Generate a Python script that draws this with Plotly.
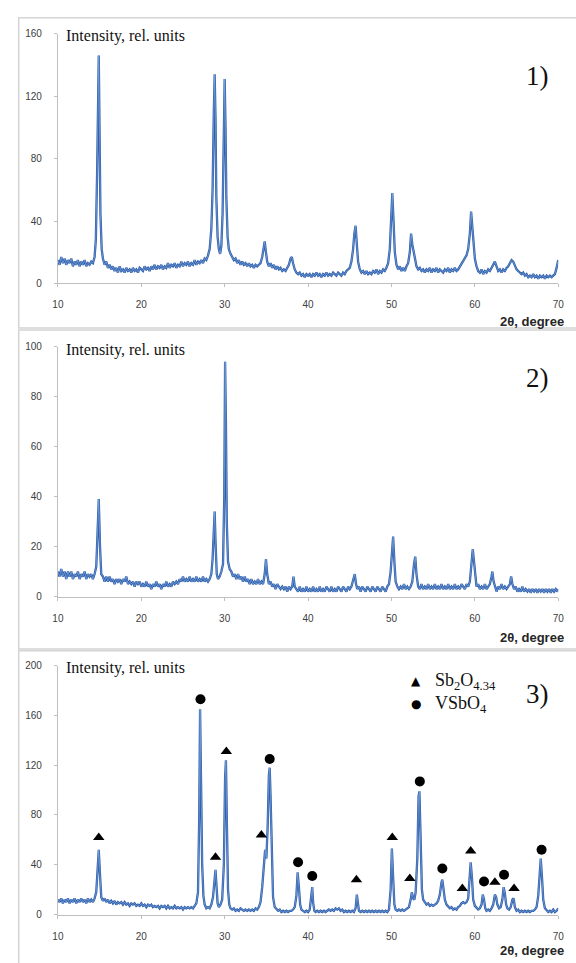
import plotly.graph_objects as go

W, H = 576, 963

# ---- data: (2theta, intensity) ----
xrd_1 = [(10.0,15),(10.2,12),(10.4,17),(10.6,13),(10.8,16),(11.0,12),(11.2,15),(11.4,13),(11.6,16),(11.8,11),
 (12.0,14),(12.2,12),(12.4,15),(12.6,11),(12.8,14),(13.0,12),(13.2,15),(13.4,11),(13.6,13),(13.8,12),(14.0,14),(14.2,13),
 (14.4,17),(14.55,28),(14.7,70),(14.82,120),(14.9,146),(15.0,95),(15.1,45),(15.25,22),(15.4,16),(15.6,12),
 (15.8,14),(16.0,10),(16.2,12),(16.4,9),(16.6,11),(16.8,8),(17.0,10),(17.2,7),(17.4,11),(17.6,8),(17.8,9),(18.0,7),
 (18.2,10),(18.4,8),(18.6,9),(18.8,7),(19.0,10),(19.2,8),(19.4,9),(19.6,7),(19.8,10),(20.0,9),(20.2,8),(20.4,11),
 (20.6,9),(20.8,10),(21.0,8),(21.2,11),(21.4,9),(21.6,12),(21.8,9),(22.0,11),(22.2,10),(22.4,12),(22.6,9),(22.8,11),
 (23.0,10),(23.2,13),(23.4,10),(23.6,12),(23.8,11),(24.0,13),(24.2,10),(24.4,12),(24.6,11),(24.8,14),(25.0,11),
 (25.2,13),(25.4,12),(25.6,14),(25.8,11),(26.0,13),(26.2,12),(26.4,15),(26.6,12),(26.8,14),(27.0,13),(27.2,15),
 (27.4,13),(27.6,16),(27.8,15),(28.0,18),(28.2,22),(28.4,35),(28.55,60),(28.7,110),(28.8,134),(28.9,105),(29.0,55),
 (29.15,30),(29.3,22),(29.45,19),(29.6,24),(29.75,45),(29.9,100),(30.0,131),(30.1,100),(30.2,55),(30.35,30),(30.5,22),
 (30.7,19),(30.9,17),(31.1,15),(31.3,16),(31.5,13),(31.7,15),(31.9,12),(32.1,14),(32.3,12),(32.5,13),(32.7,11),
 (32.9,13),(33.1,11),(33.3,12),(33.5,10),(33.7,12),(33.9,11),(34.1,12),(34.3,13),(34.5,17),(34.65,22),(34.8,27),
 (34.95,20),(35.1,14),(35.3,11),(35.5,13),(35.7,10),(35.9,12),(36.1,9),(36.3,11),(36.5,9),(36.7,10),(36.9,8),
 (37.1,9),(37.3,8),(37.5,10),(37.7,12),(37.9,16),(38.05,17),(38.2,13),(38.4,9),(38.6,7),(38.8,6),(39.0,7),(39.2,5),
 (39.4,6),(39.6,4),(39.8,6),(40.0,5),(40.2,6),(40.4,4),(40.6,6),(40.8,5),(41.0,7),(41.2,5),(41.4,6),(41.6,4),
 (41.8,6),(42.0,5),(42.2,7),(42.4,5),(42.6,6),(42.8,5),(43.0,7),(43.2,6),(43.4,5),(43.6,7),(43.8,6),(44.0,5),
 (44.2,7),(44.4,6),(44.6,8),(44.8,9),(45.0,10),(45.2,14),(45.4,22),(45.55,32),(45.7,37),(45.85,25),(46.0,14),
 (46.2,9),(46.4,7),(46.6,8),(46.8,6),(47.0,8),(47.2,6),(47.4,7),(47.6,6),(47.8,8),(48.0,7),(48.2,9),(48.4,6),
 (48.6,8),(48.8,7),(49.0,9),(49.2,8),(49.4,10),(49.6,13),(49.8,22),(49.95,45),(50.1,58),(50.25,40),(50.4,20),
 (50.6,12),(50.8,9),(51.0,11),(51.2,8),(51.4,10),(51.6,8),(51.8,11),(52.0,13),(52.2,20),(52.35,32),(52.5,25),
 (52.65,21),(52.8,15),(53.0,11),(53.2,9),(53.4,10),(53.6,8),(53.8,9),(54.0,7),(54.2,9),(54.4,8),(54.6,10),
 (54.8,7),(55.0,9),(55.2,8),(55.4,10),(55.6,7),(55.8,9),(56.0,8),(56.2,7),(56.4,9),(56.6,8),(56.8,10),(57.0,7),
 (57.2,9),(57.4,8),(57.6,10),(57.8,8),(58.0,9),(58.2,11),(58.4,12),(58.6,14),(58.8,16),(59.0,18),(59.2,22),
 (59.4,32),(59.55,46),(59.7,35),(59.85,22),(60.0,16),(60.2,11),(60.4,8),(60.6,7),(60.8,9),(61.0,6),(61.2,8),
 (61.4,7),(61.6,9),(61.8,8),(62.0,10),(62.2,13),(62.4,14),(62.6,11),(62.8,8),(63.0,9),(63.2,7),(63.4,9),(63.6,8),
 (63.8,10),(64.0,11),(64.2,13),(64.4,15),(64.6,14),(64.8,11),(65.0,9),(65.2,8),(65.4,7),(65.6,6),(65.8,7),(66.0,5),
 (66.2,6),(66.4,4),(66.6,5),(66.8,4),(67.0,6),(67.2,4),(67.4,5),(67.6,3),(67.8,5),(68.0,4),(68.2,5),(68.4,3),
 (68.6,5),(68.8,4),(69.0,5),(69.2,4),(69.4,5),(69.6,6),(69.8,10),(70.0,15)]

xrd_2 = [(10.0,10),(10.2,8),(10.4,11),(10.6,8),(10.8,10),(11.0,7),(11.2,10),(11.4,8),(11.6,10),(11.8,7),(12.0,9),
 (12.2,8),(12.4,10),(12.6,7),(12.8,9),(13.0,8),(13.2,10),(13.4,7),(13.6,9),(13.8,8),(14.0,9),(14.2,7),(14.4,9),
 (14.6,12),(14.75,25),(14.9,39),(15.05,20),(15.2,9),(15.4,8),(15.6,6),(15.8,8),(16.0,6),(16.2,8),(16.4,6),(16.6,7),
 (16.8,5),(17.0,7),(17.2,6),(17.4,7),(17.6,5),(17.8,7),(18.0,6),(18.2,8),(18.4,5),(18.6,6),(18.8,5),(19.0,6),
 (19.2,4),(19.4,6),(19.6,5),(19.8,6),(20.0,4),(20.2,5),(20.4,4),(20.6,6),(20.8,4),(21.0,5),(21.2,3),(21.4,5),
 (21.6,4),(21.8,6),(22.0,4),(22.2,5),(22.4,3),(22.6,5),(22.8,4),(23.0,6),(23.2,4),(23.4,5),(23.6,4),(23.8,6),
 (24.0,5),(24.2,6),(24.4,5),(24.6,7),(24.8,6),(25.0,8),(25.2,6),(25.4,7),(25.6,6),(25.8,8),(26.0,6),(26.2,7),
 (26.4,6),(26.6,8),(26.8,6),(27.0,7),(27.2,6),(27.4,8),(27.6,6),(27.8,7),(28.0,6),(28.2,7),(28.4,9),(28.55,15),
 (28.7,30),(28.8,34),(28.9,22),(29.05,9),(29.2,7),(29.4,8),(29.6,10),(29.8,13),(29.95,40),(30.05,94),(30.15,70),
 (30.25,30),(30.4,14),(30.6,11),(30.8,10),(31.0,8),(31.2,9),(31.4,7),(31.6,9),(31.8,7),(32.0,8),(32.2,6),(32.4,8),
 (32.6,6),(32.8,7),(33.0,5),(33.2,7),(33.4,5),(33.6,6),(33.8,5),(34.0,7),(34.2,5),(34.4,6),(34.6,5),(34.8,9),
 (34.95,15),(35.1,9),(35.3,5),(35.5,6),(35.7,4),(35.9,5),(36.1,3),(36.3,5),(36.5,4),(36.7,3),(36.9,4),(37.1,3),
 (37.3,4),(37.5,2),(37.7,4),(37.9,3),(38.1,4),(38.25,8),(38.4,4),(38.6,3),(38.8,2),(39.0,4),(39.2,2),(39.4,3),
 (39.6,2),(39.8,4),(40.0,2),(40.2,3),(40.4,2),(40.6,4),(40.8,2),(41.0,3),(41.2,2),(41.4,4),(41.6,2),(41.8,3),
 (42.0,2),(42.2,4),(42.4,3),(42.6,2),(42.8,4),(43.0,2),(43.2,3),(43.4,2),(43.6,4),(43.8,3),(44.0,2),(44.2,4),
 (44.4,3),(44.6,2),(44.8,4),(45.0,3),(45.2,4),(45.45,7),(45.6,9),(45.75,5),(45.9,3),(46.1,4),(46.3,2),(46.5,4),
 (46.7,3),(46.9,2),(47.1,4),(47.3,3),(47.5,2),(47.7,4),(47.9,3),(48.1,2),(48.3,4),(48.5,3),(48.7,2),(48.9,4),
 (49.1,3),(49.3,2),(49.5,4),(49.7,5),(49.9,10),(50.05,19),(50.2,24),(50.35,14),(50.5,6),(50.7,4),(50.9,3),
 (51.1,4),(51.3,3),(51.5,5),(51.7,3),(51.9,4),(52.1,3),(52.3,4),(52.5,6),(52.7,13),(52.85,16),(53.0,9),(53.2,4),
 (53.4,3),(53.6,5),(53.8,3),(54.0,4),(54.2,3),(54.4,5),(54.6,3),(54.8,4),(55.0,3),(55.2,5),(55.4,3),(55.6,4),
 (55.8,3),(56.0,5),(56.2,3),(56.4,4),(56.6,3),(56.8,5),(57.0,3),(57.2,4),(57.4,3),(57.6,5),(57.8,3),(58.0,4),
 (58.2,3),(58.4,5),(58.6,4),(58.8,3),(59.0,5),(59.2,4),(59.4,6),(59.6,12),(59.75,19),(59.9,14),(60.05,7),(60.2,4),
 (60.4,5),(60.6,3),(60.8,4),(61.0,3),(61.2,5),(61.4,3),(61.6,4),(61.8,5),(62.0,8),(62.1,10),(62.25,6),(62.4,4),
 (62.6,2),(62.8,4),(63.0,3),(63.2,5),(63.4,3),(63.6,4),(63.8,3),(64.0,4),(64.2,5),(64.35,8),(64.5,5),(64.7,3),
 (64.9,4),(65.1,2),(65.3,3),(65.5,2),(65.7,4),(65.9,2),(66.1,3),(66.3,2),(66.5,3),(66.7,1.5),(66.9,3),(67.1,2),
 (67.3,3),(67.5,1.5),(67.7,3),(67.9,2),(68.1,3),(68.3,1.5),(68.5,3),(68.7,2),(68.9,3),(69.1,1.5),(69.3,3),(69.5,2),
 (69.7,3),(69.9,2),(70.0,3)]

xrd_3 = [(10.0,12),(10.2,10),(10.4,13),(10.6,9),(10.8,12),(11.0,10),(11.2,13),(11.4,9),(11.6,12),(11.8,10),
 (12.0,13),(12.2,9),(12.4,12),(12.6,10),(12.8,13),(13.0,10),(13.2,12),(13.4,9),(13.6,13),(13.8,10),(14.0,12),
 (14.2,10),(14.4,13),(14.6,18),(14.75,35),(14.9,52),(15.05,32),(15.2,14),(15.4,11),(15.6,13),(15.8,10),(16.0,12),
 (16.2,9),(16.4,11),(16.6,9),(16.8,11),(17.0,8),(17.2,10),(17.4,9),(17.6,10),(17.8,8),(18.0,10),(18.2,8),(18.4,9),
 (18.6,7),(18.8,9),(19.0,8),(19.2,9),(19.4,7),(19.6,8),(19.8,7),(20.0,9),(20.2,7),(20.4,8),(20.6,6),(20.8,8),
 (21.0,7),(21.2,8),(21.4,6),(21.6,7),(21.8,6),(22.0,7),(22.2,5),(22.4,7),(22.6,6),(22.8,7),(23.0,5),(23.2,7),
 (23.4,5),(23.6,6),(23.8,5),(24.0,7),(24.2,5),(24.4,6),(24.6,5),(24.8,6),(25.0,4),(25.2,6),(25.4,5),(25.6,6),
 (25.8,5),(26.0,6),(26.2,5),(26.4,7),(26.6,9),(26.8,18),(26.95,80),(27.05,165),(27.15,120),(27.3,40),(27.45,15),
 (27.6,8),(27.8,5),(28.0,6),(28.2,5),(28.4,8),(28.6,14),(28.8,33),(28.9,36),(29.0,25),(29.15,9),(29.3,6),(29.5,8),
 (29.7,12),(29.9,40),(30.05,110),(30.15,124),(30.25,80),(30.4,20),(30.55,8),(30.7,5),(30.9,4),(31.1,5),(31.3,3),
 (31.5,4),(31.7,3),(31.9,5),(32.1,4),(32.3,3),(32.5,4),(32.7,3),(32.9,4),(33.1,3),(33.3,4),(33.5,3),(33.7,5),
 (33.9,4),(34.1,6),(34.3,10),(34.5,22),(34.7,45),(34.85,52),(35.0,45),(35.15,70),(35.3,112),(35.4,118),(35.5,95),
 (35.65,40),(35.8,14),(36.0,6),(36.2,4),(36.4,3),(36.6,4),(36.8,2),(37.0,3),(37.2,2),(37.4,3),(37.6,2),(37.8,3),
 (38.0,3),(38.2,4),(38.4,6),(38.6,15),(38.75,34),(38.9,22),(39.05,8),(39.2,4),(39.4,3),(39.6,2),(39.8,3),(40.0,2),
 (40.2,4),(40.35,15),(40.5,22),(40.6,10),(40.75,3),(40.9,2),(41.1,3),(41.3,2),(41.5,3),(41.7,2),(41.9,3),(42.1,2),
 (42.3,3),(42.5,4),(42.7,3),(42.9,4),(43.1,3),(43.3,5),(43.5,4),(43.7,5),(43.9,3),(44.1,4),(44.3,2),(44.5,3),
 (44.7,2),(44.9,3),(45.1,2),(45.3,3),(45.5,2),(45.7,5),(45.85,16),(45.95,12),(46.1,3),(46.3,2),(46.5,3),(46.7,2),
 (46.9,3),(47.1,2),(47.3,3),(47.5,2),(47.7,3),(47.9,2),(48.1,3),(48.3,2),(48.5,3),(48.7,2),(48.9,3),(49.1,2),
 (49.3,3),(49.5,2),(49.7,4),(49.9,20),(50.05,53),(50.2,30),(50.35,8),(50.5,4),(50.7,3),(50.9,4),(51.1,3),(51.3,4),
 (51.5,3),(51.7,4),(51.9,5),(52.1,6),(52.3,12),(52.45,18),(52.6,13),(52.75,12),(52.9,18),(53.1,45),(53.25,95),
 (53.35,99),(53.5,60),(53.65,20),(53.8,12),(54.0,10),(54.2,8),(54.4,9),(54.6,7),(54.8,8),(55.0,7),(55.2,8),
 (55.4,9),(55.6,11),(55.8,16),(56.0,26),(56.1,28),(56.25,20),(56.4,12),(56.6,8),(56.8,6),(57.0,5),(57.2,6),
 (57.4,4),(57.6,5),(57.8,4),(58.0,6),(58.2,7),(58.4,9),(58.6,10),(58.8,9),(59.0,10),(59.2,13),(59.35,25),
 (59.5,42),(59.65,30),(59.8,12),(60.0,7),(60.2,5),(60.4,4),(60.6,5),(60.8,8),(60.95,16),(61.1,12),(61.25,5),
 (61.4,3),(61.6,4),(61.8,3),(62.0,5),(62.2,8),(62.4,16),(62.55,14),(62.7,8),(62.9,5),(63.1,6),(63.3,12),
 (63.45,22),(63.6,17),(63.75,8),(63.9,5),(64.1,4),(64.3,6),(64.5,12),(64.65,13),(64.8,6),(65.0,3),(65.2,4),
 (65.4,2),(65.6,3),(65.8,2),(66.0,3),(66.2,2),(66.4,3),(66.6,2),(66.8,3),(67.0,3),(67.2,4),(67.4,6),(67.6,15),
 (67.75,35),(67.9,45),(68.05,30),(68.2,12),(68.4,5),(68.6,3),(68.8,2),(69.0,3),(69.2,2),(69.4,4),(69.6,2),
 (69.8,3),(70.0,5)]

# phase markers on pattern 3
sb2o4_x = [14.9, 28.9, 30.2, 34.4, 45.8, 50.1, 52.2, 58.5, 59.5, 62.4, 64.7]
sb2o4_y = [62, 46, 131, 64, 28, 62, 29, 21, 51, 26, 21]
vsbo4_x = [27.1, 35.4, 38.8, 40.5, 53.4, 56.1, 61.1, 63.5, 68.0]
vsbo4_y = [173, 125, 42, 31, 107, 37, 26.5, 32, 52]

x_ticks = [10, 20, 30, 40, 50, 60, 70]
y_max = [160, 100, 200]
y_step = [40, 20, 40]
panel_labels = ["1)", "2)", "3)"]
y_title = "Intensity, rel. units"
x_title = "2θ, degree"
legend_names = ["Sb<sub>2</sub>O<sub>4.34</sub>", "VSbO<sub>4</sub>"]

# ---- layout geometry (pixels) ----
def px(xp, yp):
    return xp / W, 1 - yp / H

X0, X1 = 53, 564
panel_axis_px = [(28, 281), (345, 598), (668, 920)]   # (top, bottom)
panel_box_px = [(12, 326), (328, 651), (653, 990)]
title_y = [30, 348, 670]
label_y = [71, 377, 697]
xtitle_y = [319, 639, 956]

LINE_DARK = "#2c5caa"
LINE_LIGHT = "#8fb5e6"
AX = "#bfbfbf"
TICKFONT = dict(family="Liberation Sans", size=10, color="#404040")
SERIF = "Liberation Serif"

fig = go.Figure()
patterns = [xrd_1, xrd_2, xrd_3]
for i, pat in enumerate(patterns):
    sfx = "" if i == 0 else str(i + 1)
    xs = [p[0] for p in pat]
    ys = [p[1] for p in pat]
    fig.add_trace(go.Scatter(x=xs, y=ys, mode="lines",
                             line=dict(color=LINE_DARK, width=2.3), xaxis="x" + sfx, yaxis="y" + sfx,
                             showlegend=False, hoverinfo="skip"))
    fig.add_trace(go.Scatter(x=xs, y=ys, mode="lines",
                             line=dict(color=LINE_LIGHT, width=0.6), xaxis="x" + sfx, yaxis="y" + sfx,
                             showlegend=False, hoverinfo="skip"))

fig.add_trace(go.Scatter(x=sb2o4_x, y=sb2o4_y, mode="markers", xaxis="x3", yaxis="y3",
                         marker=dict(symbol="triangle-up", size=10, color="black"),
                         showlegend=False, hoverinfo="skip"))
fig.add_trace(go.Scatter(x=vsbo4_x, y=vsbo4_y, mode="markers", xaxis="x3", yaxis="y3",
                         marker=dict(symbol="circle", size=10, color="black"),
                         showlegend=False, hoverinfo="skip"))

layout = dict(width=W, height=H, margin=dict(l=0, r=0, t=0, b=0),
              paper_bgcolor="white", plot_bgcolor="rgba(0,0,0,0)", showlegend=False)
xd = [X0 / W, X1 / W]
for i in range(3):
    sfx = "" if i == 0 else str(i + 1)
    top, bot = panel_axis_px[i]
    yd = [1 - bot / H, 1 - top / H]
    layout["xaxis" + sfx] = dict(domain=xd, anchor="y" + sfx, range=[10, 70],
                                 tickvals=x_ticks, showline=True, linecolor=AX, linewidth=1,
                                 ticks="outside", ticklen=3, tickcolor=AX, showgrid=False,
                                 zeroline=False, tickfont=TICKFONT, ticklabelstandoff=9)
    layout["yaxis" + sfx] = dict(domain=yd, anchor="x" + sfx, range=[0, y_max[i]],
                                 dtick=y_step[i], tick0=0, showline=True, linecolor=AX, linewidth=1,
                                 ticks="outside", ticklen=3, tickcolor=AX, showgrid=False,
                                 zeroline=False, tickfont=TICKFONT, ticklabelstandoff=10)
fig.update_layout(**layout)

shapes = []
annotations = []
for i in range(3):
    t, b = panel_box_px[i]
    x0p, y0p = px(13, b)
    x1p, y1p = px(590, t)
    shapes.append(dict(type="rect", xref="paper", yref="paper", x0=x0p, x1=x1p, y0=y0p, y1=y1p,
                       line=dict(color="#d4d4d4", width=1.5), fillcolor="rgba(0,0,0,0)", layer="below"))
    ax_, ay_ = px(59, title_y[i])
    annotations.append(dict(xref="paper", yref="paper", x=ax_, y=ay_, xanchor="left", yanchor="middle",
                            text=y_title, showarrow=False,
                            font=dict(family=SERIF, size=16, color="#111111")))
    lx, ly = px(543, label_y[i])
    annotations.append(dict(xref="paper", yref="paper", x=lx, y=ly, xanchor="center", yanchor="middle",
                            text=panel_labels[i], showarrow=False,
                            font=dict(family=SERIF, size=27, color="#111111")))
    tx, ty = px(572, xtitle_y[i])
    annotations.append(dict(xref="paper", yref="paper", x=tx, y=ty, xanchor="right", yanchor="middle",
                            text="<b>" + x_title + "</b>", showarrow=False,
                            font=dict(family="Liberation Sans", size=13, color="#262626")))

# phase legend in panel 3
leg_rows = [(684, "▲"), (707, "●")]
for (yy, sym), name in zip(leg_rows, legend_names):
    sx, sy = px(419, yy)
    annotations.append(dict(xref="paper", yref="paper", x=sx, y=sy, xanchor="center", yanchor="middle",
                            text=sym, showarrow=False, font=dict(family="DejaVu Sans", size=12, color="black")))
    nx, ny = px(436, yy)
    annotations.append(dict(xref="paper", yref="paper", x=nx, y=ny, xanchor="left", yanchor="middle",
                            text=name, showarrow=False, font=dict(family=SERIF, size=18, color="#111111")))

fig.update_layout(shapes=shapes, annotations=annotations)
fig.write_html("out.html", config={"displayModeBar": False},
               post_script="document.body.style.margin='0';document.body.style.overflow='hidden';")
